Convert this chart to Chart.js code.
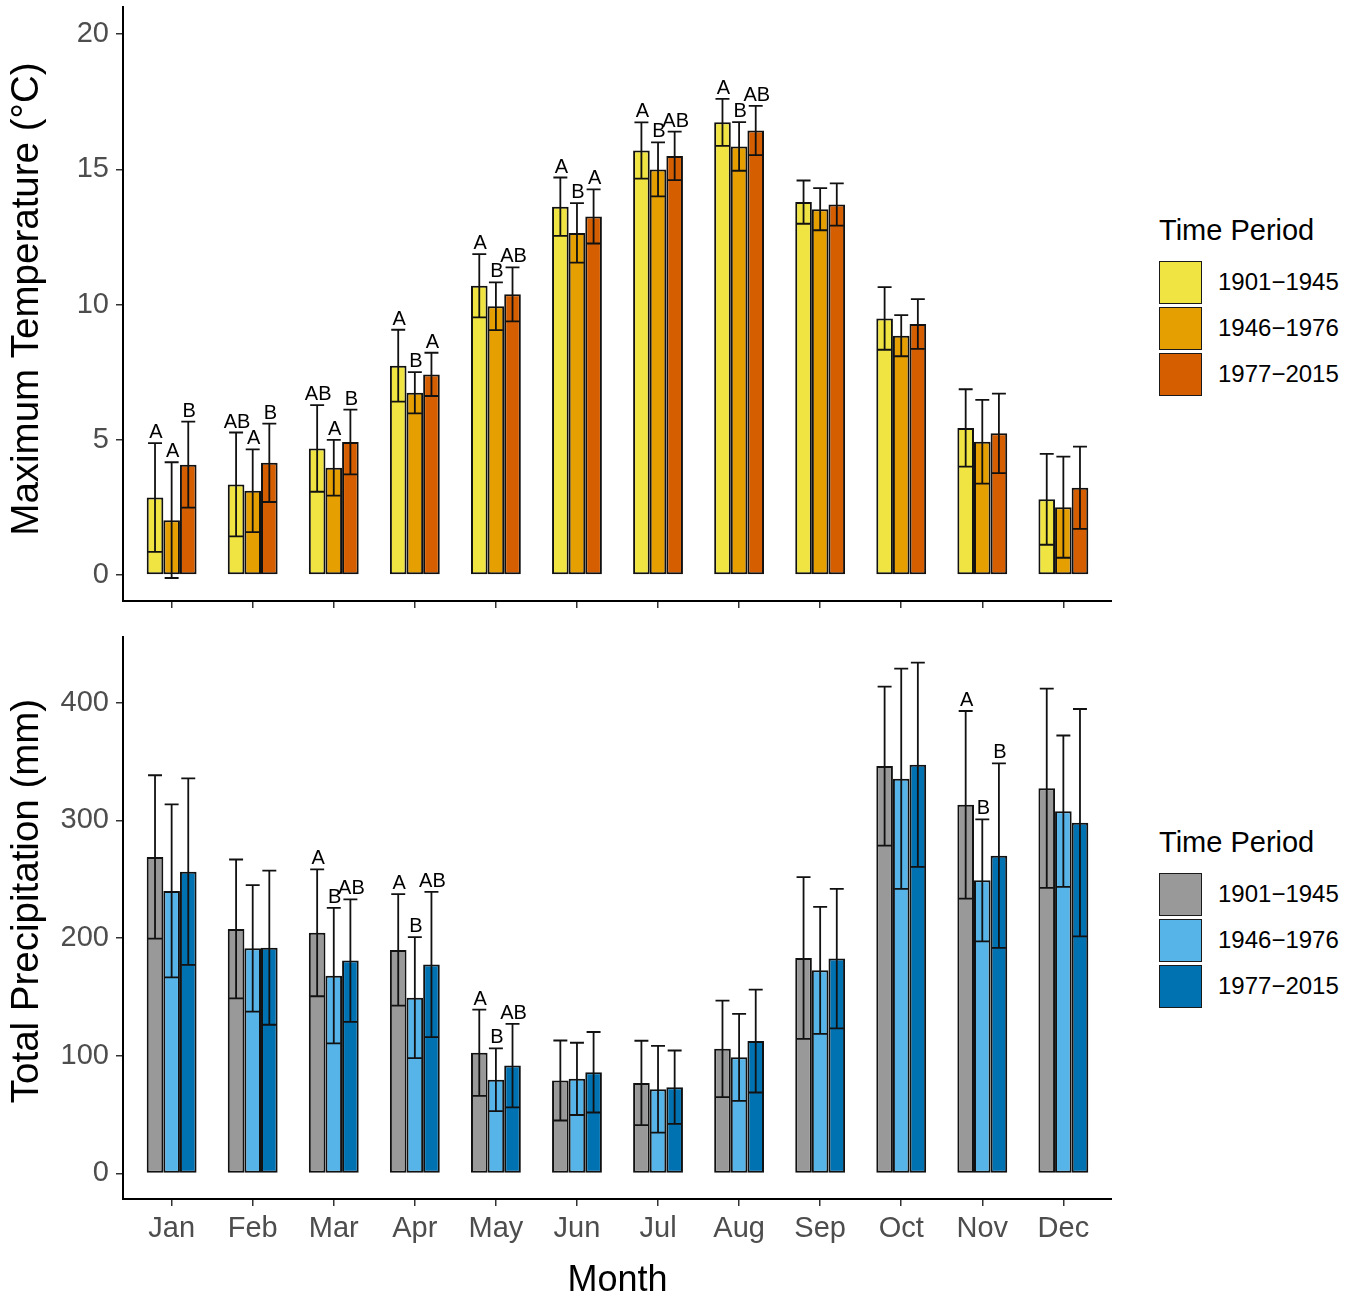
<!DOCTYPE html>
<html>
<head>
<meta charset="utf-8">
<script src="https://cdn.jsdelivr.net/npm/chart.js@4.4.1/dist/chart.umd.min.js"></script>
<style>
  body { margin: 0; background: #fff; font-family: "Liberation Sans", Arial, sans-serif; }
  #wrap { position: relative; width: 1346px; height: 1303px; }
  canvas { position: absolute; left: 0; }
  .legend { position: absolute; left: 1159px; }
  .legend .title { font-size: 29px; color: #000; height: 40px; line-height: 40px; margin-bottom: 9px; }
  .legend .item { height: 46px; display: flex; align-items: center; }
  .legend .key { width: 41px; height: 41px; border: 1.5px solid #1a1a1a; box-sizing: content-box; }
  .legend .lab { font-size: 24px; margin-left: 16px; color: #000; }
</style>
</head>
<body>
<div id="wrap">
  <canvas id="tempChart" width="1112" height="620" style="top:0"></canvas>
  <canvas id="precChart" width="1112" height="683" style="top:620px"></canvas>
  <div class="legend" id="legTemp" style="top:210px"></div>
  <div class="legend" id="legPrec" style="top:822px"></div>
</div>
<script>
// categories
const months = ['Jan', 'Feb', 'Mar', 'Apr', 'May', 'Jun', 'Jul', 'Aug', 'Sep', 'Oct', 'Nov', 'Dec'];
const periods = ['1901\u22121945', '1946\u22121976', '1977\u22122015'];

// maximum temperature, mean and sd per period
const temp1901 = [2.87, 3.35, 4.68, 7.74, 10.70, 13.62, 15.70, 16.74, 13.79, 9.49, 5.44, 2.80];
const temp1946 = [2.03, 3.12, 3.97, 6.74, 9.94, 12.65, 15.00, 15.85, 13.53, 8.85, 4.93, 2.51];
const temp1977 = [4.08, 4.15, 4.92, 7.42, 10.38, 13.26, 15.50, 16.44, 13.70, 9.28, 5.24, 3.23];
const tempSd1901 = [2.01, 1.92, 1.60, 1.33, 1.17, 1.08, 1.04, 0.87, 0.80, 1.16, 1.43, 1.68];
const tempSd1946 = [2.14, 1.53, 1.03, 0.76, 0.88, 1.10, 1.00, 0.90, 0.78, 0.76, 1.55, 1.87];
const tempSd1977 = [1.59, 1.45, 1.20, 0.80, 1.00, 1.00, 0.90, 0.91, 0.78, 0.92, 1.47, 1.52];
const tempLetters1901 = ['A', 'AB', 'AB', 'A', 'A', 'A', 'A', 'A', '', '', '', ''];
const tempLetters1946 = ['A', 'A', 'A', 'B', 'B', 'B', 'B', 'B', '', '', '', ''];
const tempLetters1977 = ['B', 'B', 'B', 'A', 'AB', 'A', 'AB', 'AB', '', '', '', ''];
const tempTicks = [0, 5, 10, 15, 20];

// total precipitation, mean and sd per period
const prec1901 = [269.0, 207.8, 204.5, 190.0, 102.6, 79.0, 76.9, 105.9, 183.1, 346.2, 313.3, 327.4];
const prec1946 = [240.1, 191.3, 168.1, 149.4, 79.6, 80.4, 71.6, 98.7, 172.6, 335.5, 249.1, 307.9];
const prec1977 = [256.5, 191.9, 180.9, 177.6, 91.7, 86.0, 73.3, 112.5, 182.6, 347.4, 270.1, 298.1];
const precSd1901 = [69.4, 59.0, 53.9, 47.4, 36.6, 34.0, 35.9, 41.0, 68.7, 67.6, 79.7, 84.7];
const precSd1946 = [73.5, 53.7, 57.6, 51.4, 26.7, 30.7, 36.9, 37.0, 53.9, 93.6, 51.8, 64.3];
const precSd1977 = [79.2, 65.5, 52.0, 61.7, 35.5, 34.2, 31.2, 43.7, 59.3, 86.8, 78.4, 96.6];
const precLetters1901 = ['', '', 'A', 'A', 'A', '', '', '', '', '', 'A', ''];
const precLetters1946 = ['', '', 'B', 'B', 'B', '', '', '', '', '', 'B', ''];
const precLetters1977 = ['', '', 'AB', 'AB', 'AB', '', '', '', '', '', 'B', ''];
const precTicks = [0, 100, 200, 300, 400];

const tempColors = ['#F0E442', '#E69F00', '#D55E00'];
const precColors = ['#999999', '#56B4E9', '#0072B2'];

const font = 'Liberation Sans';

// error bars + significance letters on top of the bars
const errorBars = {
    id: 'errorBars',
    afterDatasetsDraw(chart) {
        const ctx = chart.ctx;
        const yScale = chart.scales.y;
        ctx.save();
        chart.data.datasets.forEach((ds, i) => {
            const meta = chart.getDatasetMeta(i);
            meta.data.forEach((bar, j) => {
                const m = ds.data[j].y;
                const sd = ds.sd[j];
                const yLo = yScale.getPixelForValue(m - sd);
                const yHi = yScale.getPixelForValue(m + sd);
                const half = bar.width * 0.42;
                ctx.strokeStyle = '#111';
                ctx.lineWidth = 1.8;
                ctx.beginPath();
                ctx.moveTo(bar.x, yLo);
                ctx.lineTo(bar.x, yHi);
                ctx.moveTo(bar.x - half, yLo);
                ctx.lineTo(bar.x + half, yLo);
                ctx.moveTo(bar.x - half, yHi);
                ctx.lineTo(bar.x + half, yHi);
                ctx.stroke();
                const letter = ds.letters[j];
                if (letter) {
                    ctx.fillStyle = '#000';
                    ctx.font = '20px "' + font + '"';
                    ctx.textAlign = 'center';
                    ctx.textBaseline = 'alphabetic';
                    ctx.fillText(letter, bar.x + 1, yHi - 5);
                }
            });
        });
        ctx.restore();
    }
};

// rotated y-axis title, drawn a little off the panel centre like the original
const yTitle = {
    id: 'yTitle',
    afterDraw(chart, args, opts) {
        const ctx = chart.ctx;
        const a = chart.chartArea;
        ctx.save();
        ctx.translate(opts.x, (a.top + a.bottom) / 2 + opts.shift);
        ctx.rotate(-Math.PI / 2);
        ctx.fillStyle = '#000';
        ctx.font = '38.5px "' + font + '"';
        ctx.textAlign = 'center';
        ctx.textBaseline = 'middle';
        ctx.fillText(opts.text, 0, 0);
        ctx.restore();
    }
};

function makeDatasets(series, sds, letters, colors) {
    return series.map((vals, k) => ({
        label: periods[k],
        data: vals.map((v, i) => ({ x: i + 1, y: v })),
        sd: sds[k],
        letters: letters[k],
        backgroundColor: colors[k],
        borderColor: '#111',
        borderWidth: 2,
        borderSkipped: false,
        categoryPercentage: 0.615,
        barPercentage: 1.0
    }));
}

function makeOptions(yMin, yMax, ticks, title, shift, showX, xHeight, padTop) {
    return {
        responsive: false,
        animation: false,
        layout: { padding: { top: padTop, left: 0, right: 0, bottom: 0 } },
        plugins: {
            legend: { display: false },
            tooltip: { enabled: false },
            yTitle: { text: title, x: 27, shift: shift }
        },
        scales: {
            x: {
                type: 'linear',
                min: 0.4,
                max: 12.6,
                offset: false,
                afterBuildTicks: (s) => { s.ticks = months.map((m, i) => ({ value: i + 1 })); },
                afterFit: (s) => { s.height = xHeight; },
                grid: { display: true, drawOnChartArea: false, drawTicks: true, tickLength: 7, color: '#333', lineWidth: 1.5, offset: false },
                border: { display: true, color: '#000', width: 2 },
                ticks: {
                    display: showX,
                    autoSkip: false,
                    maxRotation: 0,
                    padding: 6,
                    color: '#4d4d4d',
                    font: { family: font, size: 29 },
                    callback: (v) => months[v - 1]
                },
                title: {
                    display: showX,
                    text: 'Month',
                    color: '#000',
                    font: { family: font, size: 36 },
                    padding: { top: 2, bottom: 0 }
                }
            },
            y: {
                min: yMin,
                max: yMax,
                afterBuildTicks: (s) => { s.ticks = ticks.map(v => ({ value: v })); },
                afterFit: (s) => { s.width = 123; },
                grid: { display: true, drawOnChartArea: false, drawTicks: true, tickLength: 7, color: '#333', lineWidth: 1.5 },
                border: { display: true, color: '#000', width: 2 },
                ticks: {
                    padding: 7,
                    color: '#4d4d4d',
                    font: { family: font, size: 29, lineHeight: 0.01 }
                },
                title: { display: false }
            }
        }
    };
}

new Chart(document.getElementById('tempChart'), {
    type: 'bar',
    data: {
        datasets: makeDatasets(
            [temp1901, temp1946, temp1977],
            [tempSd1901, tempSd1946, tempSd1977],
            [tempLetters1901, tempLetters1946, tempLetters1977],
            tempColors)
    },
    options: makeOptions(-0.96, 21.0, tempTicks, 'Maximum Temperature (\u00B0C)', -5, false, 19, 7),
    plugins: [errorBars, yTitle]
});

new Chart(document.getElementById('precChart'), {
    type: 'bar',
    data: {
        datasets: makeDatasets(
            [prec1901, prec1946, prec1977],
            [precSd1901, precSd1946, precSd1977],
            [precLetters1901, precLetters1946, precLetters1977],
            precColors)
    },
    options: makeOptions(-21.7, 455.9, precTicks, 'Total Precipitation (mm)', -17, true, 104, 17),
    plugins: [errorBars, yTitle]
});

// legends
function buildLegend(id, colors) {
    const el = document.getElementById(id);
    let html = '<div class="title">Time Period</div>';
    periods.forEach((p, k) => {
        html += '<div class="item"><div class="key" style="background:' + colors[k] + '"></div><div class="lab">' + p + '</div></div>';
    });
    el.innerHTML = html;
}
buildLegend('legTemp', tempColors);
buildLegend('legPrec', precColors);
</script>
</body>
</html>
